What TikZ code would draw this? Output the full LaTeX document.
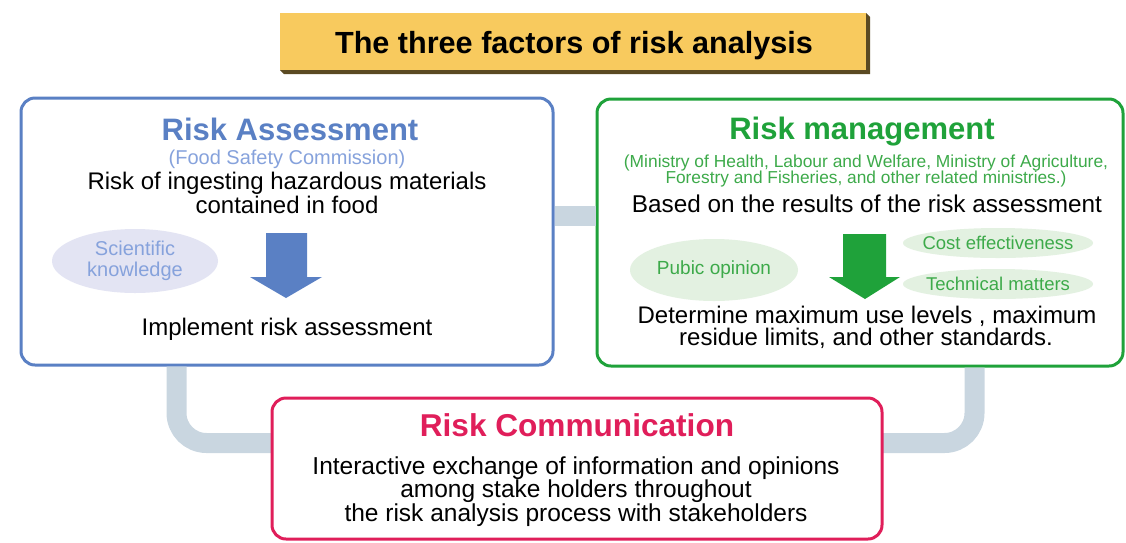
\documentclass[tikz,border=0pt]{standalone}
\usepackage{fontspec}
\setmainfont{Liberation Sans}
\usetikzlibrary{shapes.geometric}
\definecolor{asblue}{HTML}{5A80C4}
\definecolor{asblue2}{HTML}{86A2DC}
\definecolor{sciviolet}{HTML}{E3E4F3}
\definecolor{mgreen}{HTML}{1FA23A}
\definecolor{mgreen2}{HTML}{3DAA4A}
\definecolor{cloudgreen}{HTML}{E3F1E1}
\definecolor{cred}{HTML}{E01E5A}
\definecolor{linkgrey}{HTML}{C9D6E0}
\definecolor{titleyellow}{HTML}{F8CA5E}
\definecolor{titleshade}{HTML}{5B4A22}
\newcommand{\fsz}[2]{\fontsize{#1}{#2}\selectfont}
\begin{document}
\begin{tikzpicture}[x=1pt,y=-1pt,line join=round,
box/.style={draw,line width=3pt,rounded corners=14pt,fill=white,inner sep=0pt},
link/.style={draw=linkgrey,line width=20pt},
cloud/.style={ellipse,inner sep=0pt},
txt/.style={anchor=base,inner sep=0pt,align=center}]
\useasboundingbox (0,0) rectangle (1126,542);
% title
\fill[titleshade] (866,13)--(870,17)--(870,74)--(284,74)--(280,70)--(866,70)--cycle;
\fill[titleyellow] (280,13) rectangle (866,70);
\node[txt,font=\fsz{30.6}{31}\bfseries] (title) at (574,53) {The three factors of risk analysis};
% boxes and links
\node[box,draw=asblue,minimum width=532pt,minimum height=267pt] (assess) at (287,231.5) {};
\node[box,draw=mgreen,minimum width=526pt,minimum height=267pt] (manage) at (860,232.5) {};
\draw[link] ([yshift=16pt]assess.east) -- ([yshift=16pt]assess.east -| manage.west);
\draw[link,rounded corners=30pt] ([xshift=157pt]assess.south west) |- (272,443);
\draw[link,rounded corners=30pt] ([xshift=-150pt]manage.south east) |- (882,443);
\node[box,draw=cred,minimum width=610pt,minimum height=141pt] (comm) at (577,468.5) {};
% risk assessment
\node[txt,font=\fsz{31}{31}\bfseries,text=asblue] (ashead) at (290,140) {Risk Assessment};
\node[txt,font=\fsz{20}{20},text=asblue2] (asorg) at (287,164) {(Food Safety Commission)};
\node[txt,font=\fsz{24}{24}] (asrisk) at (287,189) {Risk of ingesting hazardous materials};
\node[txt,font=\fsz{24}{24}] (asfood) at (287,213) {contained in food};
\node[cloud,fill=sciviolet,minimum width=166pt,minimum height=64pt] (sci) at (135,261) {};
\node[align=center,font=\fsz{20}{21},text=asblue2] at (sci) {Scientific\\knowledge};
\fill[asblue] (266,233)--(307,233)--(307,277)--(322,277)--(286,298)--(250,277)--(266,277)--cycle;
\node[txt,font=\fsz{24}{24}] (asimpl) at (287,335) {Implement risk assessment};
% risk management
\node[txt,font=\fsz{31}{31}\bfseries,text=mgreen] (mghead) at (862,139) {Risk management};
\node[txt,font=\fsz{17.4}{17},text=mgreen2] (mgorg) at (866,167) {(Ministry of Health, Labour and Welfare, Ministry of Agriculture,};
\node[txt,font=\fsz{17.3}{17},text=mgreen2] (mgorg2) at (866,183) {Forestry and Fisheries, and other related ministries.)};
\node[txt,font=\fsz{24.3}{24}] (mgbase) at (867,212) {Based on the results of the risk assessment};
\node[cloud,fill=cloudgreen,minimum width=168pt,minimum height=62pt] (pub) at (714,270) {};
\node[cloud,fill=cloudgreen,minimum width=190pt,minimum height=30pt] (cost) at (998,243) {};
\node[cloud,fill=cloudgreen,minimum width=190pt,minimum height=30pt] (tech) at (998,284) {};
\node[font=\fsz{19}{19},text=mgreen2] at (pub) {Pubic opinion};
\node[font=\fsz{18.5}{19},text=mgreen2] at (cost) {Cost effectiveness};
\node[font=\fsz{18.5}{19},text=mgreen2] at (tech) {Technical matters};
\fill[mgreen] (843,234)--(886,234)--(886,277)--(900,277)--(865,299)--(829,277)--(843,277)--cycle;
\node[txt,font=\fsz{24}{24}] (mgdet) at (867,323) {Determine maximum use levels , maximum};
\node[txt,font=\fsz{24}{24}] (mgdet2) at (866,345) {residue limits, and other standards.};
% risk communication
\node[txt,font=\fsz{31.6}{32}\bfseries,text=cred] (cmhead) at (577,436) {Risk Communication};
\node[txt,font=\fsz{24.5}{24}] (cm1) at (576,474) {Interactive exchange of information and opinions};
\node[txt,font=\fsz{24.5}{24}] (cm2) at (576,497) {among stake holders throughout};
\node[txt,font=\fsz{24.5}{24}] (cm3) at (576,521) {the risk analysis process with stakeholders};
\end{tikzpicture}
\end{document}
